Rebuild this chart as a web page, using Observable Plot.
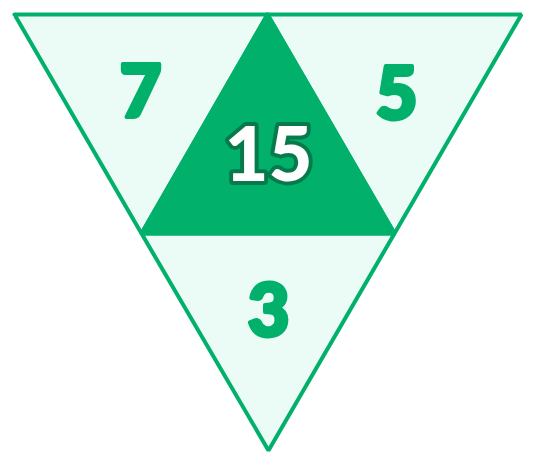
<!DOCTYPE html>
<html><head>
<script src="https://cdn.jsdelivr.net/npm/d3@7"></script>
<script src="https://cdn.jsdelivr.net/npm/@observablehq/plot@0.6"></script>
<style>body{margin:0;background:#fff}</style>
</head><body>
<div id="chart"></div>
<script>
// corner points of the puzzle (outer triangle and its edge midpoints)
var pts = {A: [14, 14], B: [521, 14], C: [268, 450], AB: [267, 14], AC: [141, 233], BC: [394, 233]};
var faces = ["left", "right", "bottom", "center"];
var faceCorners = [["A", "AB", "AC"], ["AB", "B", "BC"], ["AC", "BC", "C"], ["AB", "BC", "AC"]];
var labels = ["7", "5", "3", "15"];
var labelPos = [[140, 93], [396, 95], [268, 312], [268, 156]];

var rows = [];
faces.forEach((f, i) => {
  faceCorners[i].concat([faceCorners[i][0]]).forEach((k) => rows.push({face: f, x: pts[k][0], y: pts[k][1]}));
});
var texts = faces.map((f, i) => ({face: f, label: labels[i], x: labelPos[i][0], y: labelPos[i][1]}));

var plot = Plot.plot({
  width: 535,
  height: 467,
  margin: 0,
  x: {domain: [0, 535], axis: null},
  y: {domain: [0, 467], reverse: true, axis: null},
  marks: [
    Plot.line(rows, {x: "x", y: "y", z: "face", fill: (d) => d.face == "center" ? "#00b06b" : "#ebfbf5", stroke: "#00b06b", strokeWidth: 4, strokeLinejoin: "miter"}),
    Plot.text(texts.filter((d) => d.face != "center"), {x: "x", y: "y", text: "label", fill: "#00b06b", stroke: "#00b06b", strokeWidth: 4, strokeLinejoin: "round", fontSize: 72, fontWeight: 900, fontFamily: "Lato"}),
    Plot.text(texts.filter((d) => d.face == "center"), {x: "x", y: "y", text: "label", fill: "#fff", stroke: "#fff", strokeWidth: 3, strokeLinejoin: "round", fontSize: 76, fontWeight: 900, fontFamily: "Lato", dy: 2}),
    Plot.text(texts.filter((d) => d.face == "center"), {x: "x", y: "y", text: "label", fill: "#fff", stroke: "#077a4c", strokeWidth: 8, strokeLinejoin: "round", paintOrder: "stroke", fontSize: 76, fontWeight: 900, fontFamily: "Lato"})
  ]
});
document.getElementById("chart").append(plot);
</script>
</body></html>
